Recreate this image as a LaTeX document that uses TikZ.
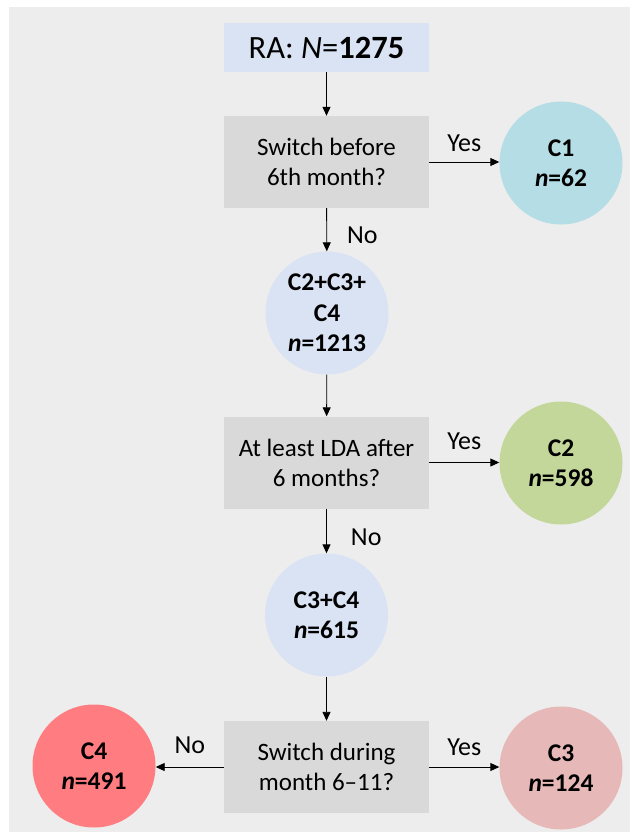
\documentclass[tikz,border=0pt]{standalone}
\usepackage{fontspec}
\setmainfont{Carlito}
\usetikzlibrary{arrows.meta}

\definecolor{panel}{HTML}{EDEDED}
\definecolor{startfill}{HTML}{DAE3F3}
\definecolor{askfill}{HTML}{D9D9D9}
\definecolor{cOne}{HTML}{B4DDE6}
\definecolor{cTwo}{HTML}{C4D79B}
\definecolor{cThree}{HTML}{E6B8B7}
\definecolor{cFour}{HTML}{FF7C80}
\definecolor{cMerge}{HTML}{DAE3F3}

\tikzset{
  question/.style={fill=askfill, draw=none, minimum width=205pt, minimum height=92pt,
    align=center, inner sep=0pt, font=\fontsize{25}{30}\selectfont},
  group/.style={circle, draw=none, minimum size=123pt, inner sep=0pt,
    align=center, font=\fontsize{25.5}{30.5}\selectfont\bfseries},
  flow/.style={-{Triangle[length=9pt,width=8pt]}, line width=0.9pt, black},
  answer/.style={font=\fontsize{26}{28}\selectfont, inner sep=0pt}
}

\begin{document}
\begin{tikzpicture}[x=1pt, y=-1pt]
  \useasboundingbox (0,0) rectangle (630,832);
  \fill[white] (0,0) rectangle (630,832);
  \fill[panel] (9,7) rectangle (630,832);

  % start box
  \node[fill=startfill, minimum width=205pt, minimum height=49pt, inner sep=0pt,
        font=\fontsize{32.5}{36}\selectfont] (ra) at (326.5,47.5)
        {RA: \textit{N}=\textbf{1275}};

  % decisions
  \node[question] (q1) at (326.5,162) {Switch before\\6th month?};
  \node[question] (q2) at (326.5,462.5) {At least LDA after\\6 months?};
  \node[question] (q3) at (326.5,767) {Switch during\\month 6--11?};

  % groups
  \node[group, fill=cOne]   (c1)   at (561,163) {C1\\\textit{n}=62};
  \node[group, fill=cMerge] (c234) at (327,313) {C2+C3+\\C4\\\textit{n}=1213};
  \node[group, fill=cTwo]   (c2)   at (561,463) {C2\\\textit{n}=598};
  \node[group, fill=cMerge] (c34)  at (326.5,615) {C3+C4\\\textit{n}=615};
  \node[group, fill=cFour]  (c4)   at (94,766) {C4\\\textit{n}=491};
  \node[group, fill=cThree] (c3)   at (561,768) {C3\\\textit{n}=124};

  % connectors
  \draw[flow] (ra) -- (q1);
  \draw[flow] (q1.east) -- (c1.west |- q1.east)
    node[answer, midway, above=10pt] {Yes};
  \draw[flow] (q1) -- (c234)
    node[answer, midway, right=20pt, yshift=-5pt] {No};
  \draw[flow] (c234) -- (q2);
  \draw[flow] (q2.east) -- (c2.west |- q2.east)
    node[answer, midway, above=12pt] {Yes};
  \draw[flow] (q2) -- (c34)
    node[answer, midway, right=24pt, yshift=-6pt] {No};
  \draw[flow] (c34) -- (q3);
  \draw[flow] (q3.east) -- (c3.west |- q3.east)
    node[answer, midway, above=11pt] {Yes};
  \draw[flow] (q3.west) -- (c4.east |- q3.west)
    node[answer, midway, above=13pt] {No};
\end{tikzpicture}
\end{document}
